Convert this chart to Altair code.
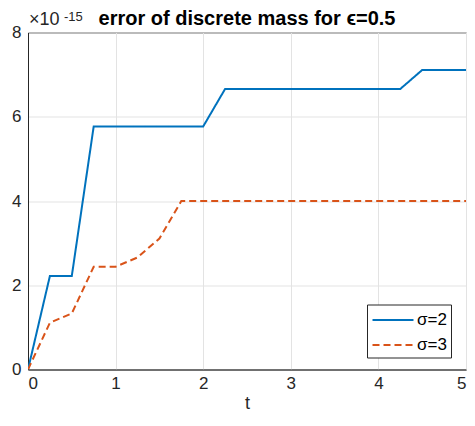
import altair as alt
import pandas as pd

t = [0, 0.25, 0.5, 0.75, 1, 1.25, 1.5, 1.75, 2, 2.25, 2.5, 2.75, 3, 3.25, 3.5, 3.75, 4, 4.25, 4.5, 4.75, 5]
sigma2 = [0, 2.22, 2.22, 5.77, 5.77, 5.77, 5.77, 5.77, 5.77, 6.66, 6.66, 6.66, 6.66, 6.66, 6.66, 6.66, 6.66, 6.66, 7.11, 7.11, 7.11]
sigma3 = [0, 1.11, 1.33, 2.44, 2.44, 2.66, 3.11, 4.0, 4.0, 4.0, 4.0, 4.0, 4.0, 4.0, 4.0, 4.0, 4.0, 4.0, 4.0, 4.0, 4.0]
series_names = ["σ=2", "σ=3"]
x_ticks = [0, 1, 2, 3, 4, 5]
y_ticks = [0, 2, 4, 6, 8]
title_text = "error of discrete mass for ϵ=0.5"

rows = []
for name, vals in zip(series_names, [sigma2, sigma3]):
    for ti, v in zip(t, vals):
        rows.append({"t": ti, "value": v, "series": name})
df = pd.DataFrame(rows)

FONT = "Liberation Sans"
AX = "#262626"
one = pd.DataFrame({"a": [0]})
W, H = 438, 337

lines = alt.Chart(df).mark_line(strokeWidth=2, clip=True).encode(
    x=alt.X("t:Q", scale=alt.Scale(domain=[0, 5], nice=False),
            axis=alt.Axis(values=x_ticks, title="t", format="d")),
    y=alt.Y("value:Q", scale=alt.Scale(domain=[0, 8], nice=False),
            axis=alt.Axis(values=y_ticks, title=None, format="d")),
    color=alt.Color("series:N", scale=alt.Scale(domain=series_names, range=["#0072BD", "#D95319"]),
                    legend=alt.Legend(title=None)),
    strokeDash=alt.StrokeDash("series:N", scale=alt.Scale(domain=series_names, range=[[1, 0], [7, 4]]),
                              legend=alt.Legend(title=None)),
)

times = alt.Chart(one).mark_text(
    text="×10", font=FONT, fontSize=18, color=AX, align="left", baseline="alphabetic"
).encode(x=alt.value(1), y=alt.value(-7.5))
exp = alt.Chart(one).mark_text(
    text="-15", font=FONT, fontSize=13, color=AX, align="left", baseline="alphabetic"
).encode(x=alt.value(36), y=alt.value(-12))
ttl = alt.Chart(one).mark_text(
    text=title_text, font=FONT, fontSize=20, fontWeight="bold", color="#000000",
    align="center", baseline="alphabetic"
).encode(x=alt.value(W / 2), y=alt.value(-7.5))

chart = alt.layer(lines, times, exp, ttl).properties(
    width=W, height=H,
    autosize=alt.AutoSizeParams(type="none"),
    padding={"left": 20, "top": 24.5, "right": 1, "bottom": 44},
).configure_view(
    stroke=AX, strokeWidth=1
).configure_axis(
    labelFont=FONT, labelFontSize=17, labelColor=AX, titleFont=FONT, titleFontSize=18,
    titleColor=AX, titleFontWeight="normal", gridColor="#E3E3E3", gridWidth=1,
    domainColor=AX, tickSize=0, labelPadding=7
).configure_axisX(titlePadding=3, labelPadding=6).configure_legend(
    orient="none", legendX=339, legendY=272, strokeColor=AX, fillColor="white",
    padding=4, symbolType="M-2,0H2", symbolSize=420, symbolStrokeWidth=2,
    symbolOffset=10.5, labelFont=FONT, labelFontSize=17, labelColor="#000000",
    labelOffset=12.5, rowPadding=5, cornerRadius=0
)

chart.save("out.html", embed_options={"renderer": "svg", "actions": False})
